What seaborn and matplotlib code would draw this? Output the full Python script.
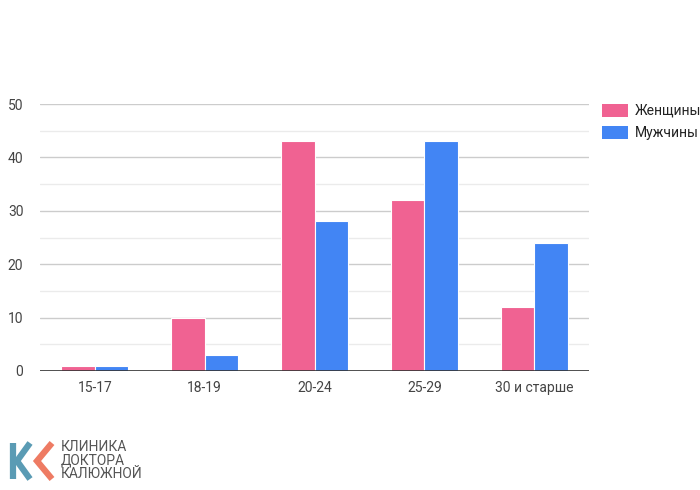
import pandas as pd
import numpy as np
import matplotlib.pyplot as plt
import seaborn as sns
from matplotlib.lines import Line2D
from matplotlib.patches import Patch

# Данные: возрастные группы и количество пациентов
groups = ['15-17', '18-19', '20-24', '25-29', '30 и старше']
women = [1, 10, 43, 32, 12]
men = [1, 3, 28, 43, 24]
series_names = ['Женщины', 'Мужчины']

df = pd.DataFrame({
    'group': groups * 2,
    'value': women + men,
    'sex': [series_names[0]] * len(groups) + [series_names[1]] * len(groups),
})

sns.set_style('white')
plt.rcParams['font.family'] = ['Roboto', 'DejaVu Sans']

colors = ['#F06292', '#4285F4']

fig = plt.figure(figsize=(7, 4.9), dpi=100)
ax = fig.add_axes([40 / 700, 1 - 371 / 490, 549 / 700, 267 / 490])

sns.barplot(data=df, x='group', y='value', hue='sex', palette=colors,
            saturation=1, width=0.61, edgecolor='white', linewidth=0.8,
            ax=ax, legend=False)

ax.set_ylim(0, 50)
ax.set_xlim(-0.5, 4.5)
ax.set_yticks(range(0, 51, 10))
ax.set_yticks(range(5, 50, 10), minor=True)
ax.grid(axis='y', which='major', color='#cccccc', linewidth=1)
ax.grid(axis='y', which='minor', color='#ebebeb', linewidth=1)
ax.set_axisbelow(True)
ax.axhline(0, color='#333333', linewidth=1.2, zorder=5)
for s in ['left', 'right', 'top', 'bottom']:
    ax.spines[s].set_visible(False)
ax.tick_params(axis='both', length=0, labelsize=10, colors='#444444')
ax.tick_params(axis='y', pad=12)
ax.tick_params(axis='x', pad=7)
ax.set_xlabel('')
ax.set_ylabel('')

# Легенда справа
handles = [Patch(facecolor=c, edgecolor='none') for c in colors]
fig.legend(handles, series_names, loc='upper left',
           bbox_to_anchor=(596 / 700, 1 - 98 / 490), frameon=False,
           fontsize=10, labelcolor='#222222', handlelength=1.9,
           handleheight=1.1, handletextpad=0.5, labelspacing=0.55,
           borderaxespad=0)

# Логотип клиники
def fx(x):
    return x / 700

def fy(y):
    return 1 - y / 490

blue_logo = '#5a9bb4'
orange_logo = '#ee7b63'
fig.add_artist(Line2D([fx(13), fx(13)], [fy(443), fy(479)], color=blue_logo, lw=4.5, solid_capstyle='butt'))
fig.add_artist(Line2D([fx(30), fx(17), fx(30)], [fy(443), fy(461), fy(479)], color=blue_logo, lw=4.5,
                      solid_joinstyle='miter', solid_capstyle='butt'))
fig.add_artist(Line2D([fx(52), fx(37), fx(52)], [fy(443), fy(461), fy(479)], color=orange_logo, lw=4.5,
                      solid_joinstyle='miter', solid_capstyle='butt'))
fig.text(fx(61), fy(440), 'КЛИНИКА\nДОКТОРА\nКАЛЮЖНОЙ', ha='left', va='top',
         fontsize=10, color='#555555', linespacing=0.95)

plt.savefig('out.png', dpi=100)
